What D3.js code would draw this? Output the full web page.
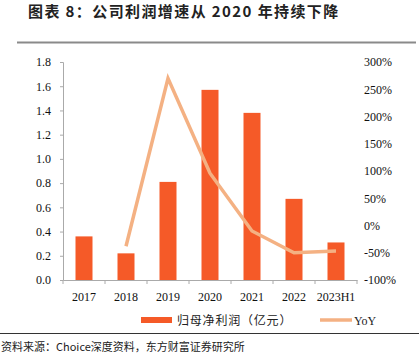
<!DOCTYPE html>
<html><head><meta charset="utf-8">
<script src="https://cdn.jsdelivr.net/npm/d3@7"></script>
<style>body{margin:0;background:#fff}svg{display:block}</style>
</head><body>
<script>
const categories = ["2017","2018","2019","2020","2021","2022","2023H1"];
const profit = [0.36, 0.22, 0.81, 1.57, 1.38, 0.67, 0.31];
const yoy = [null, -38, 270, 96, -10, -50, -47];
const leftTicks = [0,0.2,0.4,0.6,0.8,1.0,1.2,1.4,1.6,1.8];
const rightTicks = [-100,-50,0,50,100,150,200,250,300];

const W=419,H=364;
const svg=d3.select("body").append("svg").attr("width",W).attr("height",H);
const serif="'Liberation Serif','Times New Roman','Noto Sans CJK SC',serif";
const cjk="'Liberation Serif','Noto Sans CJK SC',serif";

svg.append("text").attr("x",28).attr("y",17).attr("font-family","'Noto Sans CJK SC',sans-serif")
  .attr("font-weight","bold").attr("font-size",15).attr("letter-spacing",1.4).attr("fill","#222").text("图表 8：公司利润增速从 2020 年持续下降");
svg.append("line").attr("x1",17).attr("x2",416).attr("y1",42.5).attr("y2",42.5).attr("stroke","#8a8a8a").attr("stroke-width",2);

const xb=d3.scaleBand().domain(categories).range([63,357]);
const yL=d3.scaleLinear().domain([0,1.8]).range([280,62]);
const yR=d3.scaleLinear().domain([-100,300]).range([280,62]);

// bars
svg.append("g").selectAll("rect").data(profit).join("rect")
  .attr("x",(d,i)=>xb(categories[i])+xb.bandwidth()/2-8.5).attr("width",17)
  .attr("y",d=>yL(d)).attr("height",d=>yL(0)-yL(d)).attr("fill","#F55A28");

// left axis
const gl=svg.append("g").attr("transform","translate(63,0)")
  .call(d3.axisLeft(yL).tickValues(leftTicks).tickFormat(d3.format(".1f")).tickSize(3).tickPadding(9));
gl.selectAll("path,line").attr("stroke","#aaa");
gl.selectAll("text").attr("font-family",serif).attr("font-size",12).attr("fill","#111");

// right axis (labels only)
const gr=svg.append("g").attr("transform","translate(357,0)")
  .call(d3.axisRight(yR).tickValues(rightTicks).tickFormat(d=>d+"%").tickSize(0).tickPadding(7));
gr.select("path").remove();
gr.selectAll("text").attr("font-family",serif).attr("font-size",12).attr("fill","#111");

// bottom axis
const gb=svg.append("g").attr("transform","translate(0,280)")
  .call(d3.axisBottom(xb).tickSize(0).tickPadding(12));
gb.select("path").attr("stroke","#aaa");
gb.selectAll("text").attr("font-family",serif).attr("font-size",12).attr("fill","#111");
svg.append("g").selectAll("line").data(d3.range(categories.length+1)).join("line")
  .attr("x1",i=>63+i*xb.step()).attr("x2",i=>63+i*xb.step()).attr("y1",280).attr("y2",284)
  .attr("stroke","#aaa");

// line
const pts=yoy.map((v,i)=>({v,c:categories[i]})).filter(d=>d.v!==null);
svg.append("path").datum(pts)
  .attr("d",d3.line().x(d=>xb(d.c)+xb.bandwidth()/2).y(d=>yR(d.v)))
  .attr("fill","none").attr("stroke","#F4B183").attr("stroke-width",3.5);

// legend
svg.append("rect").attr("x",141).attr("y",317).attr("width",31).attr("height",6).attr("fill","#F55A28");
svg.append("text").attr("x",177).attr("y",324.5).attr("font-family",cjk).attr("font-size",12).attr("letter-spacing",0.8).attr("fill","#222").text("归母净利润（亿元）");
svg.append("line").attr("x1",320).attr("x2",352).attr("y1",320).attr("y2",320).attr("stroke","#F4B183").attr("stroke-width",3.5);
svg.append("text").attr("x",354).attr("y",324.5).attr("font-family",serif).attr("font-size",12).attr("fill","#222").text("YoY");

// source
svg.append("line").attr("x1",0).attr("x2",419).attr("y1",333.5).attr("y2",333.5).attr("stroke","#333").attr("stroke-width",1);
svg.append("text").attr("x",1).attr("y",351).attr("font-family","'Noto Sans CJK SC',sans-serif").attr("font-size",11).attr("fill","#222").text("资料来源：Choice深度资料，东方财富证券研究所");
</script>
</body></html>
